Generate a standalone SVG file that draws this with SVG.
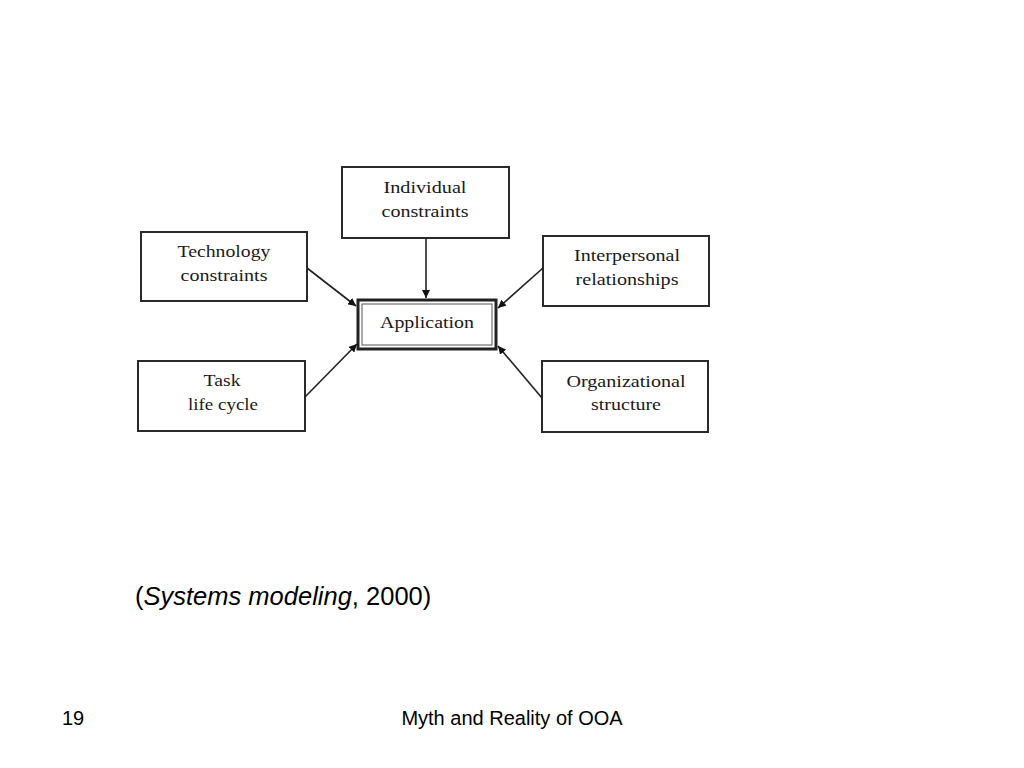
<svg xmlns="http://www.w3.org/2000/svg" width="1024" height="768" viewBox="0 0 1024 768">
<defs>
<style>
.box{fill:#fff;stroke:#2a2a2a;stroke-width:2}
.lbl{font-family:"Liberation Serif","DejaVu Serif",serif;font-size:17px;fill:#1a1a1a;text-anchor:middle}
.conn{stroke:#222;stroke-width:1.6;fill:none;marker-end:url(#ah)}
.cap{font-family:"Liberation Sans",Arial,sans-serif;fill:#000}
</style>
<marker id="ah" viewBox="0 0 10 10" refX="10" refY="5" markerWidth="8" markerHeight="8" orient="auto" markerUnits="userSpaceOnUse">
<path d="M0,0 L10,5 L0,10 z" fill="#111"/>
</marker>
</defs>
<rect width="1024" height="768" fill="#fff"/>
<g id="individual">
<rect class="box" x="342" y="167" width="167" height="71"/>
<text class="lbl" x="425" y="193" textLength="83" lengthAdjust="spacingAndGlyphs">Individual</text>
<text class="lbl" x="425" y="217" textLength="87" lengthAdjust="spacingAndGlyphs">constraints</text>
</g>
<g id="technology">
<rect class="box" x="141" y="232" width="166" height="69"/>
<text class="lbl" x="224" y="257" textLength="93" lengthAdjust="spacingAndGlyphs">Technology</text>
<text class="lbl" x="224" y="281" textLength="87" lengthAdjust="spacingAndGlyphs">constraints</text>
</g>
<g id="interpersonal">
<rect class="box" x="543" y="236" width="166" height="70"/>
<text class="lbl" x="627" y="261" textLength="106" lengthAdjust="spacingAndGlyphs">Interpersonal</text>
<text class="lbl" x="627" y="285" textLength="103" lengthAdjust="spacingAndGlyphs">relationships</text>
</g>
<g id="application">
<rect x="358" y="300" width="138" height="49" fill="#fff" stroke="#222" stroke-width="3"/>
<rect x="362" y="304" width="130" height="41" fill="none" stroke="#555" stroke-width="1"/>
<text class="lbl" x="427" y="328" textLength="94" lengthAdjust="spacingAndGlyphs">Application</text>
</g>
<g id="task">
<rect class="box" x="138" y="361" width="167" height="70"/>
<text class="lbl" x="222" y="386" textLength="37" lengthAdjust="spacingAndGlyphs">Task</text>
<text class="lbl" x="223" y="410" textLength="70" lengthAdjust="spacingAndGlyphs">life cycle</text>
</g>
<g id="organizational">
<rect class="box" x="542" y="361" width="166" height="71"/>
<text class="lbl" x="626" y="387" textLength="119" lengthAdjust="spacingAndGlyphs">Organizational</text>
<text class="lbl" x="626" y="410" textLength="70" lengthAdjust="spacingAndGlyphs">structure</text>
</g>
<g id="connectors">
<line class="conn" x1="426" y1="238" x2="426" y2="298"/>
<line class="conn" x1="307" y1="268" x2="356" y2="306"/>
<line class="conn" x1="305" y1="397" x2="357" y2="344"/>
<line class="conn" x1="543" y1="268" x2="498" y2="308"/>
<line class="conn" x1="542" y1="398" x2="498" y2="346"/>
</g>
<text class="cap" x="135" y="605" font-size="25.5">(<tspan font-style="italic">Systems modeling</tspan>, 2000)</text>
<text class="cap" x="62" y="725" font-size="20">19</text>
<text class="cap" x="512" y="725" font-size="20" text-anchor="middle">Myth and Reality of OOA</text>
</svg>
